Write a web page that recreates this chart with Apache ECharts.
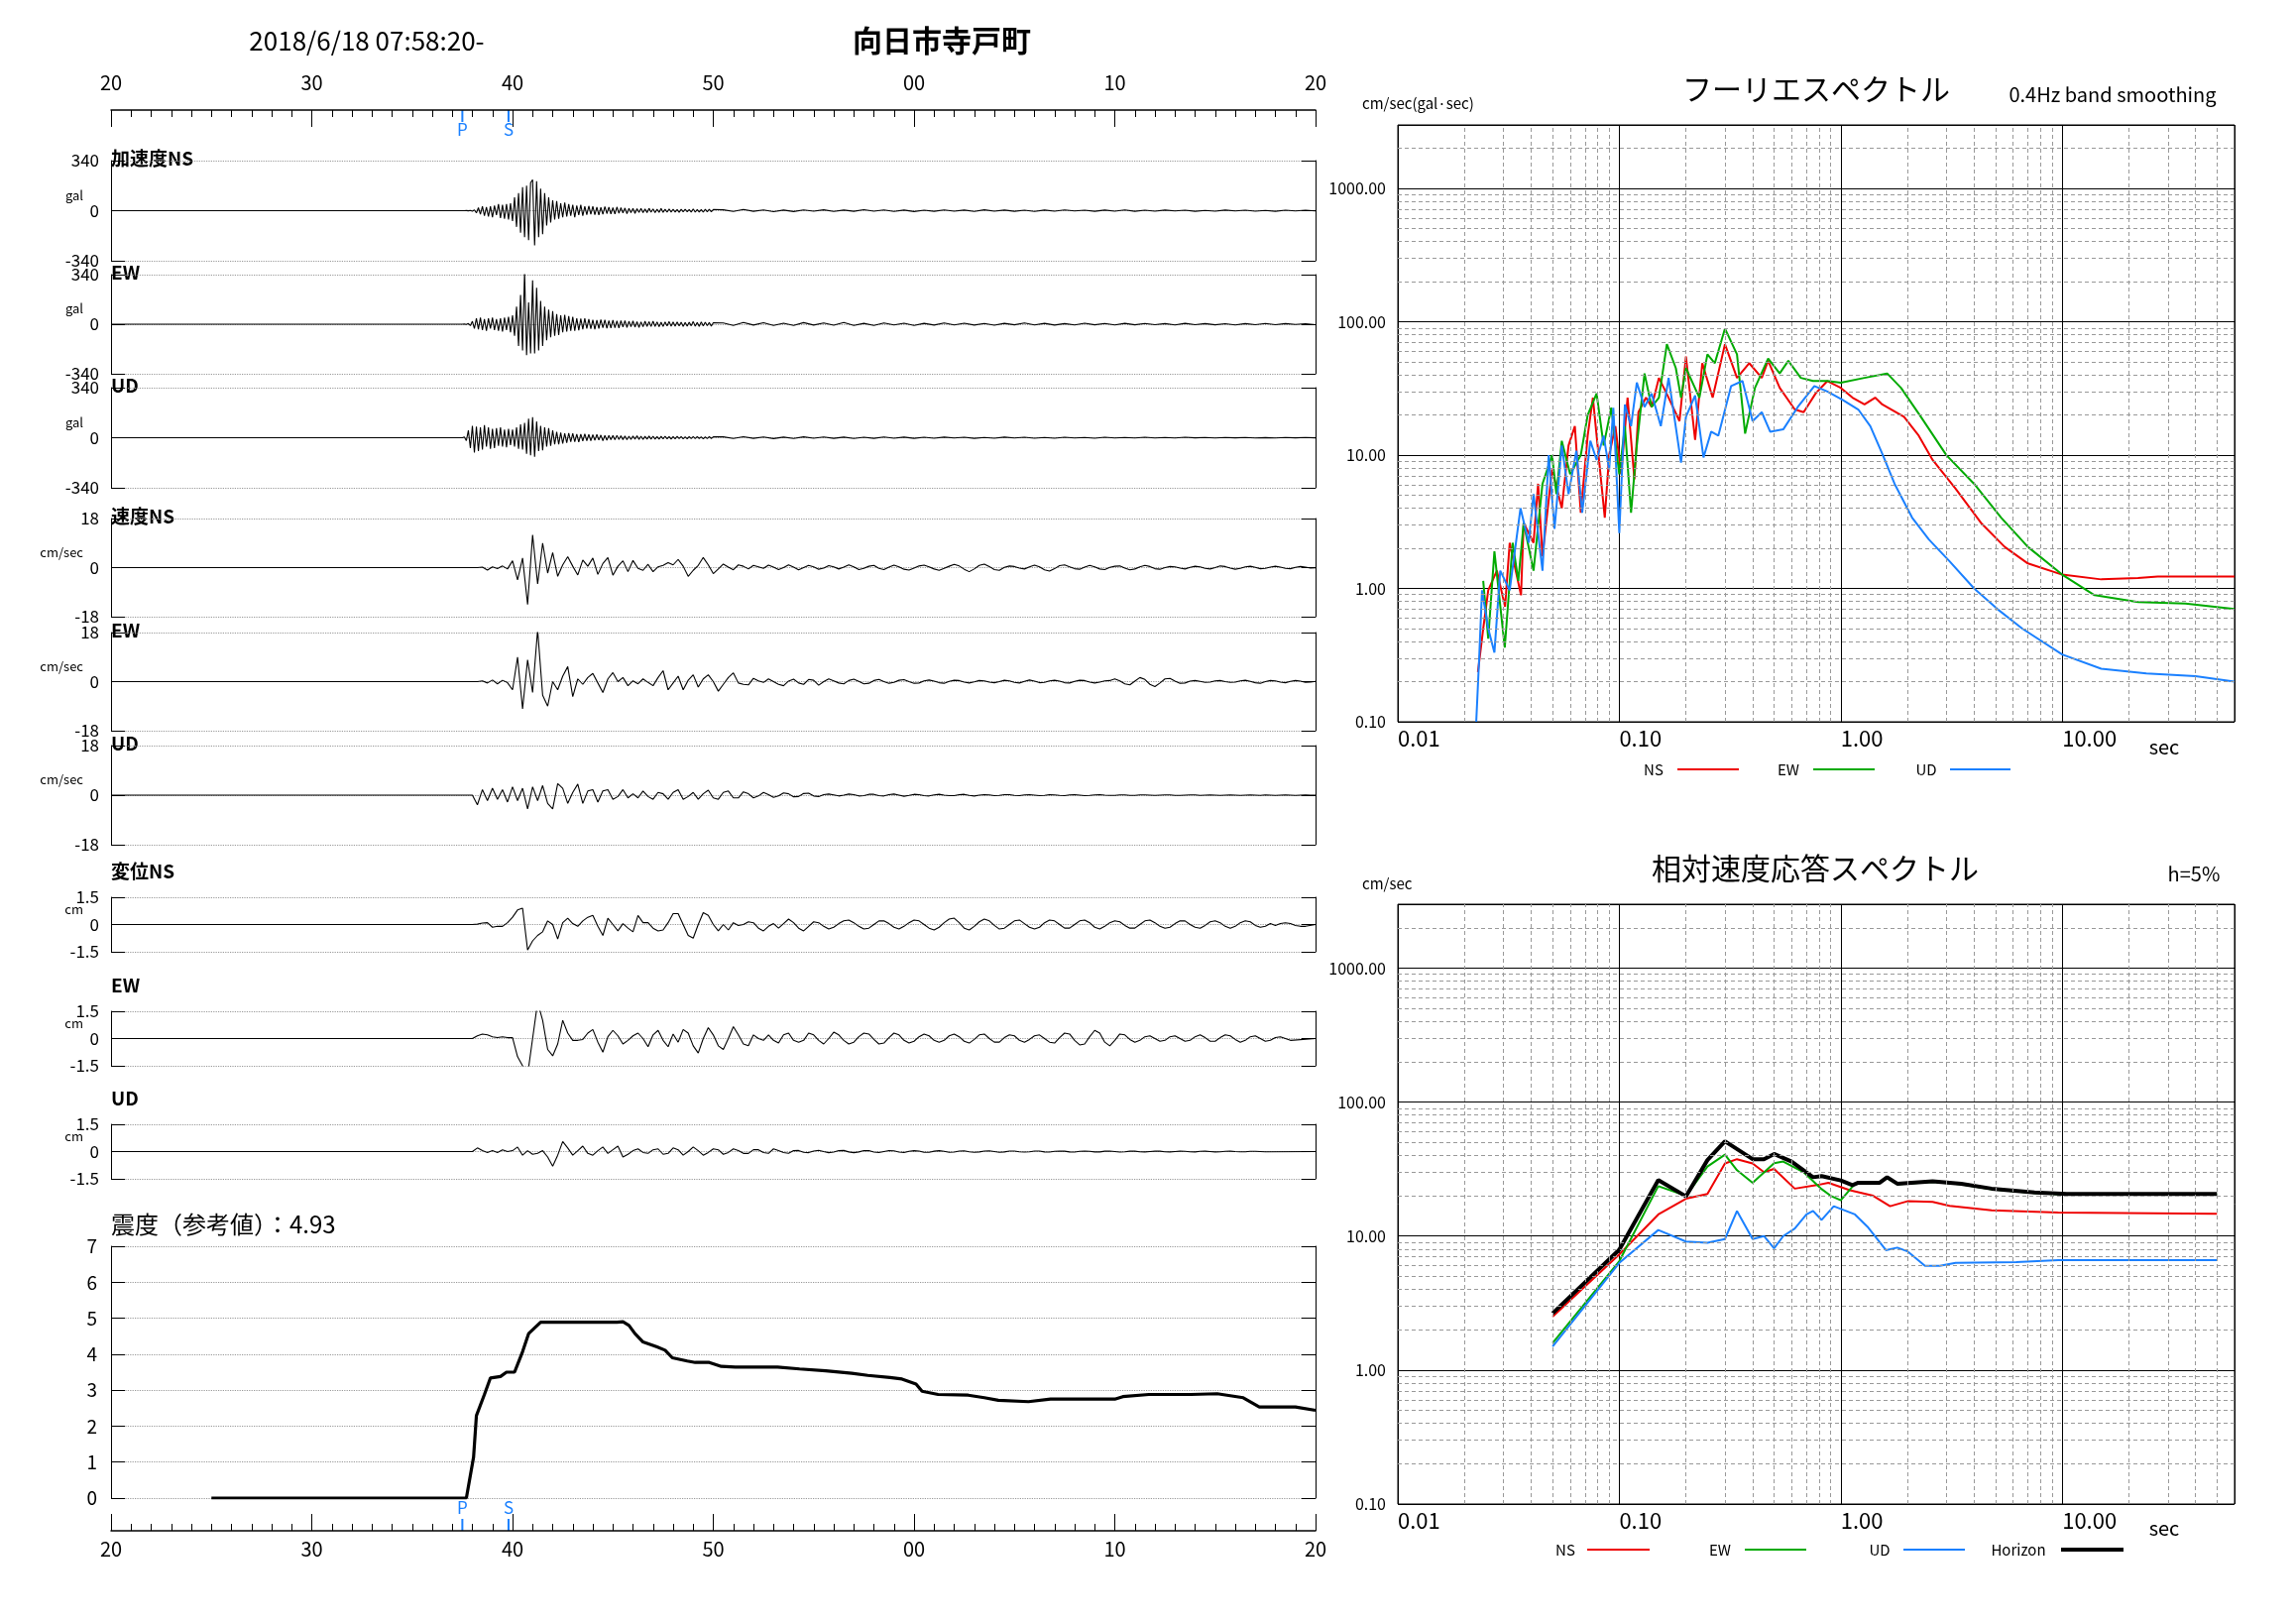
<!DOCTYPE html>
<html><head><meta charset="utf-8">
<script src="https://cdn.jsdelivr.net/npm/echarts@6/dist/echarts.min.js"></script>
<style>html,body{margin:0;padding:0;background:#fff}#c{width:2316px;height:1637px}</style>
</head><body><div id="c"></div>
<script>
// ---------- DATA ----------
const TIME_TICKS = [20,30,40,50,60,70,80];
const P_TIME = 37.5, S_TIME = 39.8;
// acceleration (gal): core from 37.5 s step 0.1, tail from 50.5 s step 0.5
const ACC_NS_CORE = [0,0,1,-1,2,-3,5, -15,20,-25,30,-35,25,-40,30, -45,35,-30,45,-50,40,-55,45,-60,50, -70,90,-110,120,-150,160,-180,170,-200,190, 210,-235,200,-180,150,-160,120,-100,90,-80, 70,-60,65,-55,50,-45,55,-40,45,-35, 40,-45,35,-30,40,-35,30,-28,32,-25, 30,-28,25,-30,22,-25,28,-20,24,-22, 20,-22,25,-18,20,-16,18,-20,15,-14, 16,-18,14,-12,15,-13,12,-14,16,-10, 12,-14,10,-12,15,-11,9,-10,12,-9, 10,-9,8,-11,9,-8,10,-7,8,-9, 12,-10,8,-9,7,-10,9,-8,10,-7, 8];
const ACC_NS_TAIL = [6,-5,8,-4,5,-7,4,-6,5,-3,6,-5,4,-4,7,-3,5,-5,4,-6,3,-4,5,-3,4,-5,6,-3,4,-4,3,-5,4,-3,5,-2,3,-4,4,-3,5,-4,3,-3,4,-2,3,-4,2,-3,4,-2,3,-3,2,-4,3,-2,3,-2];
const ACC_EW_CORE = [0,1,-2,5,-10,20,-30, 40,-35,45,-40,35,-45,40,-30, 45,-40,35,-45,40,-50,45,-40,50,-55, 60,-80,120,-150,200,-180,365,-213,150,-200, 300,-200,250,-180,160,-150,120,-110,100,-90, 90,-80,70,-75,60,-55,65,-50,55,-45, 50,-45,40,-42,38,-35,40,-30,35,-32, 30,-35,28,-30,32,-25,30,-28,25,-27, 28,-25,22,-26,24,-20,25,-22,20,-18, 22,-20,18,-22,16,-18,20,-15,18,-16, 20,-15,16,-18,14,-16,15,-12,18,-14, 15,-13,16,-12,14,-15,12,-13,14,-11, 18,-14,12,-15,16,-12,14,-10,12,-13, 10];
const ACC_EW_TAIL = [9,-8,12,-6,10,-9,7,-8,11,-6,9,-7,12,-8,6,-9,8,-5,7,-8,6,-6,9,-5,7,-6,5,-7,6,-4,8,-5,6,-6,4,-5,7,-4,5,-5,6,-4,5,-3,4,-5,6,-3,4,-4,3,-5,4,-3,5,-3,4,-2,3,-3];
const ACC_UD_CORE = [0,5,-20,50,-70,80,-100, 75,-90,70,-80,85,-60,70,-75, 60,-70,65,-55,70,-60,55,-65,60,-50, 55,-60,70,-75,90,-80,100,-110,130,-120, 140,-130,110,-90,80,-85,70,-60,65,-55, 50,-45,40,-45,35,-40,30,-35,32,-28, 30,-28,25,-30,24,-22,26,-20,22,-20, 20,-18,22,-16,18,-20,15,-17,16,-14, 15,-14,16,-12,14,-13,12,-14,10,-12, 12,-10,13,-11,10,-12,9,-10,11,-9, 10,-9,8,-10,9,-8,10,-7,8,-9, 8,-7,9,-6,8,-7,6,-8,7,-6, 7,-6,8,-5,6,-7,5,-6,7,-5, 6];
const ACC_UD_TAIL = [6,-5,7,-4,5,-6,4,-5,6,-3,5,-4,4,-5,3,-4,5,-3,4,-4,3,-3,4,-2,3,-4,2,-3,4,-2,3,-3,2,-3,3,-2,2,-3,3,-2,2,-2,3,-2,2,-2,3,-1,2,-2,2,-1,2,-2,1,-2,2,-1,2,-1];
// velocity (cm/sec): from 38.0 s step 0.25
const VEL_NS = [0,0,0.2,-0.9,0.3,-0.4,0.6,-0.5,2.5,-4.5,3.5,-13.5,12,-6,9,-2,5.5,-3.2,1,4,0.5,-2.7,2.8,0.5,3.5,-2.5,1.5,3.7,-2.8,0.5,2.5,-1.5,2.6,-0.3,-1,1.2,-1.5,0.3,0.8,1.8,1,3,0.5,-3.2,-1,0.8,3.7,1,-2.2,-0.5,1.3,0.2,-0.8,1,0.5,-0.5,0.8,0.3,-0.3,0.9,0.2,-0.7,0,1,0.2,-0.8,0,0.8,0.3,-0.6,-0.2,0.7,0.3,-0.5,0.2,1,0.3,-0.7,-0.3,0.5,0.8,-0.3,-0.7,0.2,0.9,
 0.3,-0.6,-0.9,-0.2,0.6,0.9, 0.3,-0.5,-1.0,-0.3,0.5,1.2, 0.6,-0.6,-1.5,-0.5,0.8,1.3, 0.4,-0.7,-1.0,0.1,0.6,0.4, -0.2,-0.5,0.3,0.9,0.3,-0.8, -1.3,-0.4,0.7,1.0,0.3,-0.4, -0.6,0.2,0.8,0.3,-0.5,-0.7, 0.1,0.5,0.6,-0.2,-0.8,-0.5, 0.3,0.8,0.4,-0.4,-0.6,0, 0.4,0.3,-0.2,-0.5,0.1,0.5, 0.3,-0.3,-0.5,0,0.6,0.4, -0.2,-0.6,-0.3,0.3,0.5,0.1, -0.4,-0.3,0.2,0.5,0.2,-0.3, -0.4,0.1,0.4,0.2,-0.2,-0.1];
const VEL_EW = [0,0,0.3,-0.5,0.6,-0.8,0.5,-0.4,-3,9,-10,8,-4,19,-5,-9,0,-3,2,5.5,-5.5,1,-1,1.5,3,-0.5,-4,1,3.3,0,1.5,-1.5,0.3,-0.8,1,-0.3,-1.5,1.5,4,-3,-0.5,2,-3,0.5,2.5,-2,1,2.5,0,-3.5,-1,1.5,3.2,-0.5,-1,-1.2,1.2,0.3,-0.3,1,0,-1,-1.5,0.2,0.9,-0.5,-1,0.8,0.5,-1.3,0,1,0.3,-0.5,-0.8,0.4,0.9,0.1,-0.8,-0.6,0.4,0.8,0,-0.6,-0.3,
 0.5,0.7,0,-0.6,-0.5,0.3, 0.6,0.2,-0.4,-0.6,0.1,0.5, 0.4,-0.2,-0.5,-0.1,0.4,0.3, -0.2,-0.4,0,0.5,0.3,-0.3, -0.5,0.1,0.6,0.2,-0.4,-0.3, 0.3,0.5,0.2,-0.4,-0.5,0.1, 0.5,0.4,-0.2,-0.5,-0.2,0.3, 0.4,1.0,0.3,-0.8,-1.2,0.2, 1.5,0.8,-1.0,-1.8,-0.5,1.0, 1.2,0.2,-0.6,-0.5,0.2,0.4, 0.1,-0.3,-0.2,0.3,0.4,0, -0.3,-0.2,0.3,0.5,0.1,-0.4, -0.6,0,0.4,0.3,-0.2,-0.4, 0.1,0.4,0.2,-0.3,-0.2,0.1];
const VEL_UD = [0.5,-3.5,2,-2,2.5,-1.5,2,-2.5,3,-2,2.5,-5,3,-2,3.5,-3,-5,4.2,2.5,-3,1,4,-3,1.5,2,-2.5,1.5,2,-1.5,-0.5,2,-1,0.5,-1,1.5,-0.5,-1.5,1,0.5,-1.5,1,2,-1.5,-0.5,1,-1.5,0.5,1.8,-1,-1.5,1,1.5,-1,-1,1.2,0.5,-1,-0.3,1,0.2,-0.8,-0.3,0.8,0.5,-0.6,-0.5,0.6,0.7,-0.3,-0.5,0.2,0.4,
 0.1,-0.3,0,0.4,0.2,-0.3,-0.2,0.3, 0.3,-0.2,-0.3,0.2,0.4,0,-0.4,-0.1, 0.3,0.2,-0.2,-0.3,0.1,0.3,0,-0.2, -0.2,0.2,0.3,-0.1,-0.3,0,0.2,0.1, -0.2,-0.1,0.2,0.2,-0.1,-0.2,0.1,0.2, 0,-0.2,-0.1,0.2,0.1,-0.1,-0.2,0.1, 0.2,0,-0.2,-0.1,0.1,0.2,0,-0.1, -0.1,0.1,0.1,-0.1,-0.1,0.1,0.1,0, -0.1,0,0.1,0.1,-0.1,-0.1,0,0.1, 0.1,-0.1,0,0.1,0,-0.1,0,0.1, 0,-0.1,0,0.1,0,-0.1,0.1,0, -0.1,0,0.1,0,-0.1,0,0.1,0];
// displacement (cm): from 38.0 s step 0.25
const DISP_NS = [0,0.02,0.08,0.1,-0.15,-0.1,-0.1,0.1,0.4,0.8,0.9,-1.4,-0.9,-0.6,-0.4,0.2,0,-0.8,0.1,0.35,0.05,-0.1,0.2,0.4,0.5,-0.1,-0.6,0.35,0,-0.35,0.05,-0.2,-0.4,0.5,0.1,0.1,-0.2,-0.35,-0.3,0.1,0.6,0.6,0,-0.6,-0.75,0,0.65,0.5,0,-0.35,0,-0.3,0.1,-0.05,0,0.15,0.1,-0.2,-0.35,-0.1,0.05,-0.2,0.05,0.3,0.1,-0.2,-0.35,-0.1,0.15,0.1,
 -0.1,-0.25,-0.15,0.05,0.2,0.25,0.1, -0.1,-0.25,-0.2,0,0.2,0.2,0.05, -0.15,-0.25,-0.1,0.1,0.25,0.2,0, -0.2,-0.3,-0.15,0.1,0.3,0.35,0.1, -0.2,-0.3,-0.1,0.15,0.3,0.2,-0.05, -0.25,-0.2,0,0.2,0.25,0.05,-0.15, -0.25,-0.15,0.1,0.25,0.2,0,-0.2, -0.2,0,0.2,0.25,0.1,-0.15,-0.25, -0.1,0.1,0.2,0.15,-0.05,-0.2,-0.2, 0,0.2,0.25,0.1,-0.1,-0.2,-0.15, 0.05,0.2,0.2,0,-0.15,-0.2,-0.05, 0.15,0.2,0.1,-0.1,-0.2,-0.1,0.1, 0.2,0.15,-0.05,-0.15,-0.1,0.05,-0.05, 0.05,0.1,0.05,-0.05,-0.1,-0.1];
const DISP_EW = [0.05,0.15,0.25,0.2,0.1,0.05,0.1,0.05,0.05,-1.0,-1.5,-2.0,0,2.0,1.0,-0.6,-0.95,-0.3,1.0,0.3,-0.1,-0.1,-0.05,0.3,0.5,-0.2,-0.75,0.1,0.45,0.15,-0.3,-0.1,0.15,0.3,0,-0.45,0.2,0.45,-0.1,-0.45,0.25,-0.2,0.5,0.3,-0.4,-0.8,0,0.6,0.2,-0.4,-0.6,0,0.65,0.2,-0.3,-0.4,0.2,0,-0.1,0.2,-0.1,-0.25,0.2,0.3,-0.1,-0.2,-0.1,0.3,0.2,-0.1,-0.3,0,0.35,
 0.2,-0.1,-0.3,-0.2,0.1,0.3,0.25, -0.05,-0.3,-0.25,0.05,0.3,0.2,-0.1, -0.25,-0.15,0.1,0.25,0.15,-0.1,-0.2, -0.1,0.15,0.25,0.1,-0.15,-0.25,-0.05, 0.2,0.25,0,-0.2,-0.2,0.05,0.2, 0.15,-0.1,-0.2,-0.05,0.15,0.2,0, -0.2,-0.25,0.05,0.3,0.25,-0.1,-0.35, -0.3,0.1,0.45,0.3,-0.2,-0.4,-0.1, 0.25,0.2,-0.05,-0.2,-0.1,0.1,0.15, 0,-0.15,-0.1,0.1,0.15,0,-0.15, -0.1,0.1,0.2,0.05,-0.15,-0.15,0.05, 0.2,0.15,-0.05,-0.2,-0.1,0.1,0.15, 0,-0.15,-0.1,0.05,0.1,0,-0.1];
const DISP_UD = [0.05,0.2,0.05,-0.05,0.05,-0.05,0.1,0,0.05,0.25,-0.2,0.05,-0.15,-0.1,0.05,-0.3,-0.8,-0.2,0.55,0.2,-0.2,0.05,0.3,-0.1,-0.2,0.05,0.25,-0.1,0.1,0.3,-0.3,-0.15,0.05,0.15,-0.05,-0.1,0.1,0.15,-0.15,-0.1,0.2,0.1,-0.2,0,0.25,0.05,-0.2,-0.05,0.15,0.1,-0.15,-0.05,0.15,0.05,-0.1,-0.1,0.1,0.1,-0.05,-0.1,0.15,0.05,-0.05,-0.1,0.05,
 0.06,-0.04,-0.06,0.03,0.07,0,-0.06,-0.03,0.05,0.06,-0.02,-0.06,-0.02,0.05,0.05,-0.03, -0.05,0,0.05,0.04,-0.03,-0.05,0.01,0.05,0.03,-0.04,-0.04,0.02,0.05,0.01,-0.04,-0.03, 0.03,0.04,-0.01,-0.04,-0.02,0.03,0.04,0,-0.04,-0.02,0.03,0.03,-0.01,-0.03,-0.01,0.03, 0.03,-0.02,-0.03,0.01,0.03,0.02,-0.02,-0.03,0.01,0.03,0.01,-0.02,-0.02,0.02,0.03,0, -0.03,-0.01,0.02,0.02,-0.01,-0.02,0,0.02,0.02,-0.01,-0.02,0,0.02,0.01,-0.01,-0.02, 0.01,0.02,0,-0.02,-0.01,0.01,0.02,0,-0.01,-0.01,0.01,0.01,0,-0.01];
// seismic intensity (reference value) over time
const INT_T = [25,37.7,38.06,38.2,38.6,38.9,39.4,39.7,40.1,40.5,40.8,41.4,45.2,45.5,45.8,46.1,46.5,47.2,47.6,47.96,48.7,49.1,49.8,50.4,51.1,53.2,54.3,55.6,56.9,57.7,58.8,59.4,60.1,60.4,61.2,62.7,63.5,64.2,65.7,66.8,70.0,70.4,71.7,73.8,75.1,76.4,77.2,79.0,80];
const INT_V = [0,0,1.14,2.29,2.88,3.34,3.38,3.5,3.5,4.07,4.57,4.89,4.89,4.9,4.8,4.57,4.34,4.2,4.11,3.9,3.81,3.77,3.77,3.66,3.64,3.64,3.59,3.54,3.47,3.41,3.35,3.31,3.17,2.97,2.88,2.86,2.79,2.72,2.68,2.75,2.75,2.82,2.88,2.88,2.9,2.79,2.53,2.53,2.44];
// Fourier spectrum: period (sec), amplitude
const FS_NS_P = [0.023,0.0243,0.0256,0.028,0.0305,0.032,0.036,0.037,0.041,0.043,0.045,0.0497,0.055,0.059,0.063,0.067,0.072,0.076,0.079,0.086,0.09,0.096,0.102,0.109,0.117,0.122,0.132,0.14,0.151,0.167,0.187,0.2,0.22,0.237,0.264,0.3,0.34,0.386,0.44,0.47,0.53,0.62,0.68,0.77,0.87,1.0,1.13,1.28,1.43,1.54,1.93,2.25,2.6,3.3,4.3,5.5,7.0,10,15,22,27,60];
const FS_NS_V = [0.236,0.5,0.97,1.36,0.73,2.2,0.89,3.1,2.2,6.1,1.74,7.8,4.0,11.8,16.5,3.7,14,27,14,3.4,10,16.5,7.2,27,6.6,21,27,23,38,27,18,55,13,49,27,68,38,49,38,51,32,22,21,29,36,32,27,24,27,24,19.4,14,9.2,5.6,3.1,2.05,1.54,1.27,1.17,1.2,1.23,1.23];
const FS_EW_P = [0.0243,0.0256,0.0273,0.0304,0.033,0.035,0.037,0.041,0.045,0.0497,0.052,0.055,0.06,0.067,0.072,0.079,0.085,0.092,0.1,0.106,0.113,0.12,0.13,0.14,0.151,0.164,0.18,0.19,0.2,0.23,0.25,0.27,0.3,0.34,0.37,0.41,0.47,0.53,0.58,0.66,0.75,0.87,1.0,1.28,1.62,1.87,2.3,3.0,4.0,5.3,7.0,10,14,22,36,60];
const FS_EW_V = [1.14,0.42,1.9,0.36,2.2,1.14,3.1,1.36,6.1,10,5.1,12.8,7.2,10,20,29,11.8,22.7,7.2,16.5,3.7,11.8,41,23,27,68,45,27,45,27,57,49,89,57,14.5,32,53,41,51,38,36,36,35,38,41,32,19.4,10,6.1,3.4,2.05,1.27,0.89,0.79,0.77,0.7];
const FS_UD_P = [0.0226,0.0233,0.024,0.0256,0.0273,0.029,0.032,0.0358,0.039,0.041,0.045,0.048,0.051,0.055,0.059,0.064,0.068,0.074,0.079,0.085,0.09,0.094,0.1,0.106,0.113,0.12,0.13,0.14,0.154,0.167,0.19,0.2,0.22,0.24,0.26,0.28,0.32,0.36,0.4,0.44,0.48,0.55,0.64,0.76,0.87,1.02,1.2,1.36,1.55,1.75,2.1,2.5,3.1,4.0,5.1,6.6,10,15,24,40,60];
const FS_UD_V = [0.1,0.3,0.97,0.5,0.33,1.36,0.97,4,2.2,5.1,1.36,10,2.8,11.8,5.1,10.8,3.7,12.8,9.2,14,7.8,22.7,2.6,24,16.5,35,23,29,16.5,38,8.8,19.4,28,9.6,15,14,33,36,18,21,15,15.6,23,33,30,26,22,16.5,10,6.1,3.4,2.33,1.6,1.0,0.7,0.5,0.32,0.25,0.23,0.22,0.2];
// relative velocity response spectrum (h=5%)
const RS_NS_P = [0.05,0.1,0.15,0.2,0.25,0.3,0.34,0.4,0.45,0.5,0.62,0.78,0.88,1.1,1.4,1.67,2.0,2.6,3.1,4.8,9.6,50];
const RS_NS_V = [2.5,7.3,14.5,19,20.6,34.8,37.5,34.8,30,31.7,22.6,24,25,22,20,16.7,18.2,18,16.8,15.6,15,14.7];
const RS_EW_P = [0.05,0.1,0.15,0.2,0.25,0.3,0.34,0.4,0.5,0.55,0.68,0.82,0.9,1.0,1.16,1.45,1.62,1.8,2.6,3.5,4.8,7.5,10.5,50];
const RS_EW_V = [1.59,6.5,23.6,20,33,40.5,31,25,35,36,30,22.4,20,18.5,24.6,24.6,27,24.4,25.4,24.4,22.4,21,20.4,20.4];
const RS_UD_P = [0.05,0.1,0.15,0.2,0.25,0.3,0.34,0.4,0.45,0.5,0.55,0.62,0.7,0.75,0.82,0.93,1.16,1.33,1.6,1.8,2.0,2.4,2.8,3.3,6.2,9.6,50];
const RS_UD_V = [1.5,6.3,11.1,9.1,8.9,9.5,15.4,9.5,10,8.1,10,11.4,14.5,15.4,13.2,16.7,14.5,11.6,7.85,8.2,7.7,6.0,6.0,6.3,6.4,6.6,6.6];
const RS_H_P = [0.05,0.1,0.15,0.2,0.25,0.3,0.4,0.45,0.5,0.6,0.75,0.82,1.0,1.13,1.2,1.5,1.62,1.8,2.6,3.5,4.8,7.5,10.5,50];
const RS_H_V = [2.65,7.9,26.2,19.8,36.9,51,37.5,37.5,41,36,27.5,28,26,24,25,25,27.5,24.6,25.6,24.6,22.6,21.2,20.6,20.6];
const LOG_X_MINOR_DECADES = [0.01,0.1,1,10];
const LOG_Y_MINOR_DECADES = [0.1,1,10,100,1000];

// ---------- BUILD ----------
const FONT = '"Noto Sans CJK JP","Noto Sans",sans-serif';
const C_NS='#ee0000', C_EW='#00aa00', C_UD='#1a80ff';
function wave(t0, dt, vals, t1, dt1, vals1){
  const d=[[20,0],[t0,0]];
  vals.forEach((v,i)=>{const t=t0+i*dt; if(t<=80) d.push([+t.toFixed(3),v]);});
  if(vals1) vals1.forEach((v,i)=>{const t=t1+i*dt1; if(t<=80) d.push([+t.toFixed(3),v]);});
  if(d[d.length-1][0]<80) d.push([80,0]);
  return d;
}
const panels = [
  {top:162,bot:263,M:340,unit:'gal',title:'加速度NS',tdy:0,data:wave(37.5,0.1,ACC_NS_CORE,50.5,0.5,ACC_NS_TAIL)},
  {top:277,bot:377,M:340,unit:'gal',title:'EW',tdy:0,data:wave(37.5,0.1,ACC_EW_CORE,50.5,0.5,ACC_EW_TAIL)},
  {top:391,bot:492,M:340,unit:'gal',title:'UD',tdy:0,data:wave(37.5,0.1,ACC_UD_CORE,50.5,0.5,ACC_UD_TAIL)},
  {top:523,bot:622,M:18,unit:'cm/sec',title:'速度NS',tdy:0,data:wave(38,0.25,VEL_NS)},
  {top:638,bot:737,M:18,unit:'cm/sec',title:'EW',tdy:0,data:wave(38,0.25,VEL_EW)},
  {top:752,bot:852,M:18,unit:'cm/sec',title:'UD',tdy:0,data:wave(38,0.25,VEL_UD)},
  {top:905,bot:960,M:1.5,unit:'cm',title:'変位NS',tdy:-24,data:wave(38,0.25,DISP_NS)},
  {top:1020,bot:1075,M:1.5,unit:'cm',title:'EW',tdy:-24,data:wave(38,0.25,DISP_EW)},
  {top:1134,bot:1189,M:1.5,unit:'cm',title:'UD',tdy:-24,data:wave(38,0.25,DISP_UD)},
];
const LEFT=112, WIDTH=1215;
const grid=[], xAxis=[], yAxis=[], series=[], graphic=[];
const fmtT = v => String(v%60).padStart(2,'0');
panels.forEach((p,i)=>{
  grid.push({left:LEFT,width:WIDTH,top:p.top,height:p.bot-p.top});
  const xa={gridIndex:i,type:'value',min:20,max:80,interval:10,show:false};
  if(i===0){ Object.assign(xa,{show:true,position:'top',offset:p.top-111,
    axisLine:{onZero:false,lineStyle:{color:'#000',width:1.5}},axisTick:{inside:true,length:17,lineStyle:{color:'#000'}},
    minorTick:{show:true,splitNumber:10,length:7,lineStyle:{color:'#000'}},splitLine:{show:false},
    axisLabel:{formatter:fmtT,fontSize:20,color:'#000',margin:18,fontFamily:FONT}}); }
  xAxis.push(xa);
  const lab = v => v===0?'0':(v>0?String(p.M):'-'+p.M);
  yAxis.push({gridIndex:i,type:'value',min:-p.M,max:p.M,interval:p.M,
    axisLine:{show:true,lineStyle:{color:'#000'}},axisTick:{show:true,inside:true,length:14,lineStyle:{color:'#000'}},
    splitLine:{show:true,lineStyle:{color:'#999',type:'dotted',width:1.2}},
    axisLabel:{formatter:lab,fontSize:17,color:'#000',margin:12,fontFamily:FONT}});
  yAxis.push({gridIndex:i,type:'value',position:'right',min:-p.M,max:p.M,interval:p.M,
    axisLine:{show:true,lineStyle:{color:'#000'}},axisTick:{show:true,inside:true,length:14,lineStyle:{color:'#000'}},
    splitLine:{show:false},axisLabel:{show:false}});
  series.push({type:'line',xAxisIndex:i,yAxisIndex:2*i,data:p.data,showSymbol:false,silent:true,animation:false,
    lineStyle:{color:'#000',width:1.1}});
  graphic.push({type:'text',left:LEFT,top:p.top+p.tdy-12,style:{text:p.title,fontSize:19,fontWeight:'bold',fill:'#000',fontFamily:FONT}});
  graphic.push({type:'text',right:2316-84,top:(p.top+p.bot)/2-22,style:{text:p.unit,fontSize:13,fill:'#000',fontFamily:FONT}});
});
// intensity panel
const gi = panels.length;
grid.push({left:LEFT,width:WIDTH,top:1257,height:1511-1257});
xAxis.push({gridIndex:gi,type:'value',min:20,max:80,interval:10,position:'bottom',offset:33,
  axisLine:{onZero:false,lineStyle:{color:'#000',width:1.5}},axisTick:{inside:true,length:17,lineStyle:{color:'#000'}},
  minorTick:{show:true,splitNumber:10,length:7,lineStyle:{color:'#000'}},splitLine:{show:false},
  axisLabel:{formatter:fmtT,fontSize:20,color:'#000',margin:8,fontFamily:FONT}});
yAxis.push({gridIndex:gi,type:'value',min:0,max:7,interval:1,
  axisLine:{show:true,lineStyle:{color:'#000'}},axisTick:{show:true,inside:true,length:14,lineStyle:{color:'#000'}},
  splitLine:{show:true,lineStyle:{color:'#999',type:'dotted',width:1.2}},
  axisLabel:{fontSize:19,color:'#000',margin:14,fontFamily:FONT}});
yAxis.push({gridIndex:gi,type:'value',position:'right',min:0,max:7,interval:1,
  axisLine:{show:true,lineStyle:{color:'#000'}},axisTick:{show:true,inside:true,length:14,lineStyle:{color:'#000'}},
  splitLine:{show:false},axisLabel:{show:false}});
series.push({type:'line',xAxisIndex:gi,yAxisIndex:2*gi,data:INT_T.map((t,i)=>[t,INT_V[i]]),showSymbol:false,silent:true,animation:false,
  lineStyle:{color:'#000',width:3.2}});
graphic.push({type:'text',left:LEFT,top:1223,style:{text:'震度（参考値）：4.93',fontSize:24,fill:'#000',fontFamily:FONT}});

// log spectra
const minorX=[], minorY=[];
LOG_X_MINOR_DECADES.forEach(d=>{for(let k=2;k<=9;k++){const v=+(d*k).toPrecision(3); if(v<60) minorX.push({xAxis:v});}});
LOG_Y_MINOR_DECADES.forEach(d=>{for(let k=2;k<=9;k++){const v=+(d*k).toPrecision(3); if(v<3000) minorY.push({yAxis:v});}});
function specGrid(top,h){
  const g=grid.length;
  grid.push({left:1410,width:844,top:top,height:h,show:true,borderColor:'#000',borderWidth:1});
  xAxis.push({gridIndex:g,type:'log',logBase:10,min:0.01,max:60,
    axisLine:{show:false},axisTick:{show:false},splitLine:{show:true,lineStyle:{color:'#000',width:1}},
    axisLabel:{formatter:v=>v.toFixed(2),align:'left',fontSize:22,color:'#000',margin:6,fontFamily:FONT,showMaxLabel:false}});
  yAxis.push({gridIndex:g,type:'log',logBase:10,min:0.1,max:3000,
    axisLine:{show:false},axisTick:{show:false},splitLine:{show:true,lineStyle:{color:'#000',width:1}},
    axisLabel:{formatter:v=>v.toFixed(2),fontSize:16,color:'#000',margin:12,fontFamily:FONT,showMaxLabel:false}});
  series.push({type:'line',xAxisIndex:g,yAxisIndex:yAxis.length-1,data:[],silent:true,animation:false,
    markLine:{silent:true,symbol:['none','none'],label:{show:false},animation:false,
      lineStyle:{color:'#999',type:[4,3],width:1},data:minorX.concat(minorY)}});
  return g;
}
const gF=specGrid(126,602), gR=specGrid(912,605);
function addLine(g,P,V,color,w){
  const yi = (g===gF)? 2*gi+2 : 2*gi+3;
  series.push({type:'line',xAxisIndex:g,yAxisIndex:yi,data:P.map((p,i)=>[p,V[i]]),
    showSymbol:false,silent:true,animation:false,lineStyle:{color:color,width:w}});
}
addLine(gF,FS_NS_P,FS_NS_V,C_NS,2); addLine(gF,FS_EW_P,FS_EW_V,C_EW,2); addLine(gF,FS_UD_P,FS_UD_V,C_UD,2);
addLine(gR,RS_NS_P,RS_NS_V,C_NS,2); addLine(gR,RS_EW_P,RS_EW_V,C_EW,2); addLine(gR,RS_UD_P,RS_UD_V,C_UD,2); addLine(gR,RS_H_P,RS_H_V,'#000',4);

// texts
const T=(x,y,text,size,opt)=>graphic.push(Object.assign({type:'text',x:x,y:y,style:Object.assign({text:text,fontSize:size,fill:'#000',fontFamily:FONT,align:'center',verticalAlign:'middle'},opt||{})}));
T(370,41,'2018/6/18 07:58:20-',26);
T(950,41,'向日市寺戸町',30,{fontWeight:'bold'});
T(1832,90,'フーリエスペクトル',30);
T(2131,95,'0.4Hz band smoothing',20);
T(1374,104,'cm/sec(gal·sec)',15,{align:'left'});
T(2183,753,'sec',20);
T(1831,876,'相対速度応答スペクトル',30);
T(2213,881,'h=5%',20);
T(1374,891,'cm/sec',15,{align:'left'});
T(2183,1541,'sec',20);
const LG=(x,y,text,x1,x2,color,w)=>{T(x,y,text,15);graphic.push({type:'line',shape:{x1:x1,y1:y,x2:x2,y2:y},style:{stroke:color,lineWidth:w}});};
LG(1668,776,'NS',1692,1754,C_NS,2); LG(1804,776,'EW',1829,1891,C_EW,2); LG(1943,776,'UD',1967,2028,C_UD,2);
LG(1579,1563,'NS',1601,1664,C_NS,2); LG(1735,1563,'EW',1760,1822,C_EW,2); LG(1896,1563,'UD',1920,1982,C_UD,2); LG(2036,1563,'Horizon',2079,2142,'#000',4);

const chart=echarts.init(document.getElementById('c'));
chart.setOption({animation:false,backgroundColor:'#fff',grid,xAxis,yAxis,series,graphic});
// P / S markers
const extra=[];
[[P_TIME,'P'],[S_TIME,'S']].forEach(([t,l])=>{
  const x=chart.convertToPixel({xAxisIndex:0},t);
  extra.push({type:'line',shape:{x1:x,y1:111,x2:x,y2:123},style:{stroke:C_UD,lineWidth:2}});
  extra.push({type:'text',x:x,y:131,style:{text:l,fontSize:17,fill:C_UD,fontFamily:FONT,align:'center',verticalAlign:'middle'}});
  extra.push({type:'line',shape:{x1:x,y1:1532,x2:x,y2:1544},style:{stroke:C_UD,lineWidth:2}});
  extra.push({type:'text',x:x,y:1521,style:{text:l,fontSize:17,fill:C_UD,fontFamily:FONT,align:'center',verticalAlign:'middle'}});
});
chart.setOption({graphic:graphic.concat(extra)});
</script></body></html>
